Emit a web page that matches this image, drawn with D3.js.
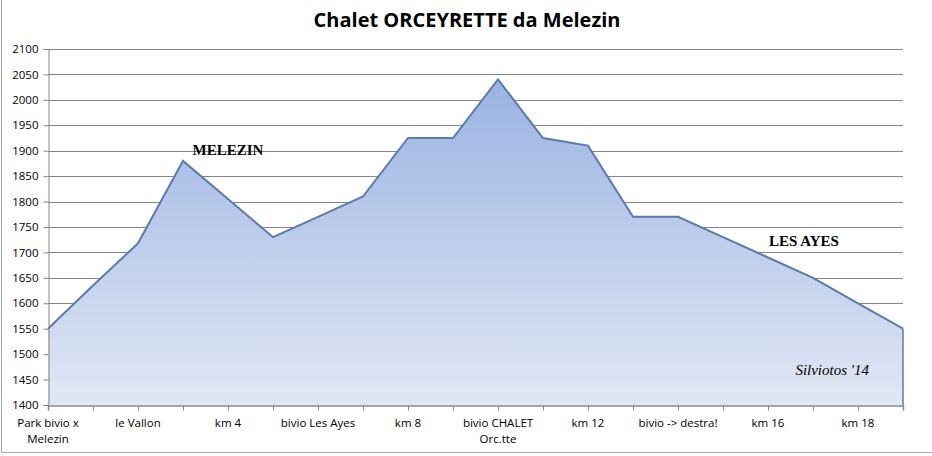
<!DOCTYPE html>
<html>
<head>
<meta charset="utf-8">
<script src="https://cdn.jsdelivr.net/npm/d3@7"></script>
<style>
  html, body { margin: 0; padding: 0; background: #fff; }
  svg { display: block; }
</style>
</head>
<body>
<svg id="chart" width="932" height="456"></svg>
<script>
// ---- data ----
const title = "Chalet ORCEYRETTE da Melezin";
const categories = [
  "Park bivio x\nMelezin", "", "le Vallon", "", "km 4", "", "bivio Les Ayes", "", "km 8", "",
  "bivio CHALET\nOrc.tte", "", "km 12", "", "bivio -> destra!", "", "km 16", "", "km 18", ""
];
const altitudes = [1550, 1635, 1718, 1880, 1805, 1730, 1770, 1810, 1925, 1925,
                   2040, 1925, 1910, 1770, 1770, 1730, 1690, 1650, 1600, 1550];
const yTicks = [1400, 1450, 1500, 1550, 1600, 1650, 1700, 1750, 1800, 1850, 1900, 1950, 2000, 2050, 2100];
const annotationTexts = ["MELEZIN", "LES AYES"];
const annotationIdx = [4, 16.8];
const annotationVals = [1891, 1713];
const signature = "Silviotos '14";

// ---- layout ----
const svg = d3.select("#chart");
const W = 932, H = 456;
const mLeft = 48, mRight = 903, mTop = 49, mBottom = 405;

const x = d3.scalePoint().domain(d3.range(categories.length)).range([mLeft, mRight]);
const y = d3.scaleLinear().domain([1400, 2100]).range([mBottom, mTop]);

// outer frame (left & bottom)
svg.append("line").attr("x1", 1.5).attr("x2", 1.5).attr("y1", 0).attr("y2", 452.5)
  .attr("stroke", "#a6a6a6").attr("stroke-width", 1);
svg.append("line").attr("x1", 1).attr("x2", W).attr("y1", 452.5).attr("y2", 452.5)
  .attr("stroke", "#a6a6a6").attr("stroke-width", 1);

// title
svg.append("text").attr("x", 467).attr("y", 27).attr("text-anchor", "middle")
  .attr("font-family", "'Open Sans', 'Liberation Sans', sans-serif")
  .attr("font-weight", "bold").attr("font-size", 20).attr("fill", "#000")
  .text(title);

// gradient
const defs = svg.append("defs");
const grad = defs.append("linearGradient").attr("id", "fillGrad")
  .attr("gradientUnits", "userSpaceOnUse")
  .attr("x1", 0).attr("x2", 0).attr("y1", y(2040)).attr("y2", mBottom);
grad.append("stop").attr("offset", "0%").attr("stop-color", "#9ab3e2");
grad.append("stop").attr("offset", "100%").attr("stop-color", "#e1e7f4");

// gridlines
svg.append("g").selectAll("line").data(yTicks.filter(d => d !== 1400)).join("line")
  .attr("x1", mLeft).attr("x2", mRight)
  .attr("y1", d => Math.round(y(d)) + 0.5).attr("y2", d => Math.round(y(d)) + 0.5)
  .attr("stroke", "#868686").attr("stroke-width", 1);

// area
const area = d3.area().x((d, i) => x(i)).y0(mBottom).y1(d => y(d));
svg.append("path").datum(altitudes).attr("d", area).attr("fill", "url(#fillGrad)");
const line = d3.line().x((d, i) => x(i)).y(d => y(d));
svg.append("path").datum(altitudes).attr("d", line)
  .attr("fill", "none").attr("stroke", "#5a7bab").attr("stroke-width", 2)
  .attr("stroke-linejoin", "miter");
// right edge of area
svg.append("line").attr("x1", mRight).attr("x2", mRight)
  .attr("y1", y(altitudes[altitudes.length - 1])).attr("y2", mBottom)
  .attr("stroke", "#5a7bab").attr("stroke-width", 1.5);

// y axis
const yAxis = d3.axisLeft(y).tickValues(yTicks).tickFormat(d3.format("d")).tickSize(5).tickPadding(5);
const gy = svg.append("g").attr("transform", `translate(${mLeft + 0.5},0)`).call(yAxis);
gy.select(".domain").attr("stroke", "#868686");
gy.selectAll(".tick line").attr("stroke", "#868686");
gy.selectAll(".tick text").attr("font-family", "'Open Sans', 'Liberation Sans', sans-serif")
  .attr("font-size", 11.5).attr("fill", "#000");

// x axis
const xAxis = d3.axisBottom(x).tickSize(5).tickFormat(() => "");
const gx = svg.append("g").attr("transform", `translate(0,${mBottom + 0.5})`).call(xAxis);
gx.select(".domain").attr("stroke", "#868686").attr("stroke-width", 1.5);
gx.selectAll(".tick line").attr("stroke", "#868686");

// x labels (multi-line)
const xl = svg.append("g").selectAll("text").data(categories.map((c, i) => ({c, i})).filter(d => d.c))
  .join("text")
  .attr("x", d => x(d.i)).attr("y", 427)
  .attr("text-anchor", "middle")
  .attr("font-family", "'Open Sans', 'Liberation Sans', sans-serif")
  .attr("font-size", 11.5).attr("fill", "#000");
xl.each(function(d) {
  const lines = d.c.split("\n");
  d3.select(this).selectAll("tspan").data(lines).join("tspan")
    .attr("x", x(d.i)).attr("dy", (l, k) => k === 0 ? 0 : 16).text(l => l);
});

// annotations
annotationTexts.forEach((t, k) => {
  svg.append("text")
    .attr("x", x(0) + (x(1) - x(0)) * annotationIdx[k])
    .attr("y", y(annotationVals[k]))
    .attr("text-anchor", "middle")
    .attr("font-family", "'Liberation Serif', 'Times New Roman', serif")
    .attr("font-weight", "bold").attr("font-size", 15).attr("fill", "#000")
    .text(t);
});
svg.append("text").attr("x", 869).attr("y", 375).attr("text-anchor", "end")
  .attr("font-family", "'Liberation Serif', 'Times New Roman', serif")
  .attr("font-style", "italic").attr("font-size", 15).attr("fill", "#000")
  .text(signature);
</script>
</body>
</html>
